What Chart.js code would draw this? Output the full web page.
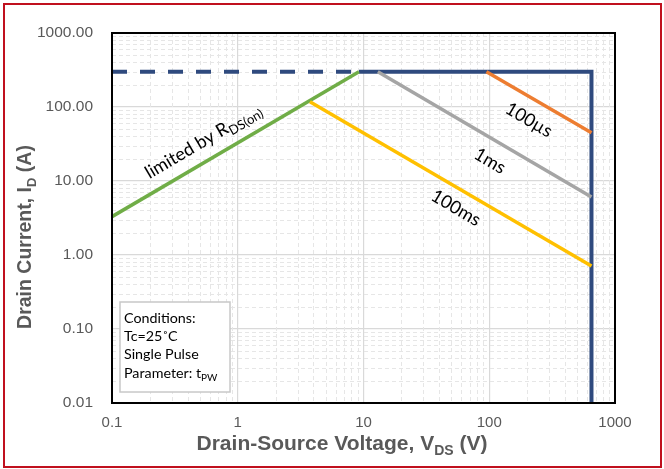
<!DOCTYPE html>
<html>
<head>
<meta charset="utf-8">
<script src="https://cdn.jsdelivr.net/npm/chart.js@4.4.1/dist/chart.umd.min.js"></script>
<style>
  html, body { margin: 0; padding: 0; background: #ffffff; }
  #wrap { position: relative; width: 664px; height: 469px; }
</style>
</head>
<body>
<div id="wrap"><canvas id="soa" width="664" height="469"></canvas></div>
<script>
// Safe operating area: drain current vs drain-source voltage (log-log)
const xTickValues = [0.1, 1, 10, 100, 1000];
const xTickLabels = ['0.1', '1', '10', '100', '1000'];
const yTickValues = [0.01, 0.1, 1, 10, 100, 1000];
const yTickLabels = ['0.01', '0.10', '1.00', '10.00', '100.00', '1000.00'];

// Boundary segments, [V, A]
const currentLimitDashed = [[0.1, 300], [9.2, 300]];
const currentLimitSolid  = [[9.2, 300], [650, 300], [650, 0.01]];
const rdsOnLimit         = [[0.1, 3.3], [9.2, 300]];
const pulse100us         = [[95, 300], [650, 45]];
const pulse1ms           = [[13, 300], [650, 6.1]];
const pulse100ms         = [[3.75, 118], [650, 0.71]];

const toPts = arr => arr.map(p => ({ x: p[0], y: p[1] }));

const BLUE = '#2F4A7E';
const GREY_TEXT = '#595959';

// Minor dashed grid, plot frame, axis titles, curve labels and conditions box
const decorations = {
  id: 'decorations',
  beforeDatasetsDraw(chart) {
    const { ctx, chartArea: a, scales: { x, y } } = chart;
    ctx.save();
    ctx.strokeStyle = '#e6e6e6';
    ctx.lineWidth = 1;
    ctx.setLineDash([4, 3]);
    for (let i = 0; i < xTickValues.length - 1; i++) {
      for (let k = 2; k <= 9; k++) {
        const px = Math.round(x.getPixelForValue(xTickValues[i] * k)) + 0.5;
        ctx.beginPath(); ctx.moveTo(px, a.top); ctx.lineTo(px, a.bottom); ctx.stroke();
      }
    }
    for (let i = 0; i < yTickValues.length - 1; i++) {
      for (let k = 2; k <= 9; k++) {
        const py = Math.round(y.getPixelForValue(yTickValues[i] * k)) + 0.5;
        ctx.beginPath(); ctx.moveTo(a.left, py); ctx.lineTo(a.right, py); ctx.stroke();
      }
    }
    ctx.restore();
  },
  afterDatasetsDraw(chart) {
    const { ctx, chartArea: a, scales: { x, y } } = chart;
    ctx.save();
    // plot frame
    ctx.strokeStyle = '#000000';
    ctx.lineWidth = 2;
    ctx.strokeRect(a.left, a.top, a.right - a.left, a.bottom - a.top);

    // slope angle of a unit log-log slope in pixels
    const dx = x.getPixelForValue(10) - x.getPixelForValue(1);
    const dy = y.getPixelForValue(1) - y.getPixelForValue(10);
    const ang = Math.atan2(dy, dx);

    const drawSub = (parts, cx, cy, rot, font, subFont, color, align, subDrop) => {
      ctx.save();
      ctx.translate(cx, cy);
      ctx.rotate(rot);
      ctx.fillStyle = color;
      ctx.textBaseline = 'alphabetic';
      ctx.textAlign = 'left';
      let total = 0;
      parts.forEach(p => { ctx.font = p.sub ? subFont : font; total += ctx.measureText(p.t).width; });
      let px = align === 'left' ? 0 : -total / 2;
      parts.forEach(p => {
        ctx.font = p.sub ? subFont : font;
        ctx.fillText(p.t, px, p.sub ? (subDrop || 4) : 0);
        px += ctx.measureText(p.t).width;
      });
      ctx.restore();
    };

    const LBL = '18px Lato, "Open Sans", sans-serif';
    const LBL_SUB = '13px Lato, "Open Sans", sans-serif';
    drawSub([{ t: 'limited by R' }, { t: 'DS(on)', sub: true }], 206, 146, -ang, LBL, LBL_SUB, '#000', 'center');
    drawSub([{ t: '100µs' }], 526, 125, ang, LBL, LBL_SUB, '#000', 'center');
    drawSub([{ t: '1ms' }], 487, 166, ang, LBL, LBL_SUB, '#000', 'center');
    drawSub([{ t: '100ms' }], 453, 213, ang, LBL, LBL_SUB, '#000', 'center');

    // conditions box
    ctx.fillStyle = '#ffffff';
    ctx.fillRect(120, 302, 110, 90);
    ctx.strokeStyle = '#c8c8c8';
    ctx.lineWidth = 1.5;
    ctx.strokeRect(120, 302, 110, 90);
    const BOX = '14.3px Lato, "Open Sans", sans-serif';
    const BOX_SUB = '10px Lato, "Open Sans", sans-serif';
    drawSub([{ t: 'Conditions:' }], 124, 323, 0, BOX, BOX_SUB, '#000', 'left');
    drawSub([{ t: 'Tc=25˚C' }], 124, 341, 0, BOX, BOX_SUB, '#000', 'left');
    drawSub([{ t: 'Single Pulse' }], 124, 359, 0, BOX, BOX_SUB, '#000', 'left');
    drawSub([{ t: 'Parameter: t' }, { t: 'PW', sub: true }], 124, 378, 0, BOX, BOX_SUB, '#000', 'left', 3);

    // axis titles
    drawSub([{ t: 'Drain-Source Voltage, V' }, { t: 'DS', sub: true }, { t: ' (V)' }], 342, 450, 0,
      'bold 21px "Liberation Sans", Arial, sans-serif', 'bold 14px "Liberation Sans", Arial, sans-serif', GREY_TEXT, 'center', 5);
    drawSub([{ t: 'Drain Current, I' }, { t: 'D', sub: true }, { t: ' (A)' }], 31, 237, -Math.PI / 2,
      'bold 19.5px "Liberation Sans", Arial, sans-serif', 'bold 13px "Liberation Sans", Arial, sans-serif', GREY_TEXT, 'center', 5);

    // outer frame
    ctx.strokeStyle = '#C0101E';
    ctx.lineWidth = 2;
    ctx.strokeRect(4, 4, 657, 463);
    ctx.restore();
  }
};

const lineDs = (data, color, width, dash) => ({
  data: toPts(data),
  borderColor: color,
  backgroundColor: color,
  borderWidth: width,
  borderDash: dash || [],
  borderCapStyle: 'butt',
  borderJoinStyle: 'miter',
  pointRadius: 0,
  showLine: true,
  fill: false,
  tension: 0
});

new Chart(document.getElementById('soa'), {
  type: 'scatter',
  data: {
    datasets: [
      lineDs(pulse100ms, '#FFC000', 3.5),
      lineDs(pulse1ms, '#A5A5A5', 3.5),
      lineDs(pulse100us, '#ED7D31', 3.5),
      lineDs(rdsOnLimit, '#70AD47', 3.5),
      lineDs(currentLimitDashed, BLUE, 4, [15, 13]),
      lineDs(currentLimitSolid, BLUE, 4)
    ]
  },
  options: {
    responsive: false,
    animation: false,
    events: [],
    layout: { padding: { left: 0, top: 33, right: 49, bottom: 0 } },
    plugins: { legend: { display: false }, tooltip: { enabled: false } },
    scales: {
      x: {
        type: 'logarithmic',
        min: 0.1, max: 1000,
        afterBuildTicks: s => { s.ticks = xTickValues.map(v => ({ value: v })); },
        afterFit: s => { s.height = 66; },
        ticks: {
          autoSkip: false, maxRotation: 0, padding: 11,
          color: GREY_TEXT,
          font: { family: '"Liberation Sans", Arial, sans-serif', size: 15 },
          callback: (v) => { const i = xTickValues.indexOf(v); return i >= 0 ? xTickLabels[i] : ''; }
        },
        grid: { color: '#d9d9d9', lineWidth: 1.2, drawTicks: false },
        border: { display: false }
      },
      y: {
        type: 'logarithmic',
        min: 0.01, max: 1000,
        afterBuildTicks: s => { s.ticks = yTickValues.map(v => ({ value: v })); },
        afterFit: s => { s.width = 112; },
        ticks: {
          autoSkip: false, padding: 19,
          color: GREY_TEXT,
          font: { family: '"Liberation Sans", Arial, sans-serif', size: 15.5 },
          callback: (v) => { const i = yTickValues.indexOf(v); return i >= 0 ? yTickLabels[i] : ''; }
        },
        grid: { color: '#d9d9d9', lineWidth: 1.2, drawTicks: false },
        border: { display: false }
      }
    }
  },
  plugins: [decorations]
});
</script>
</body>
</html>
